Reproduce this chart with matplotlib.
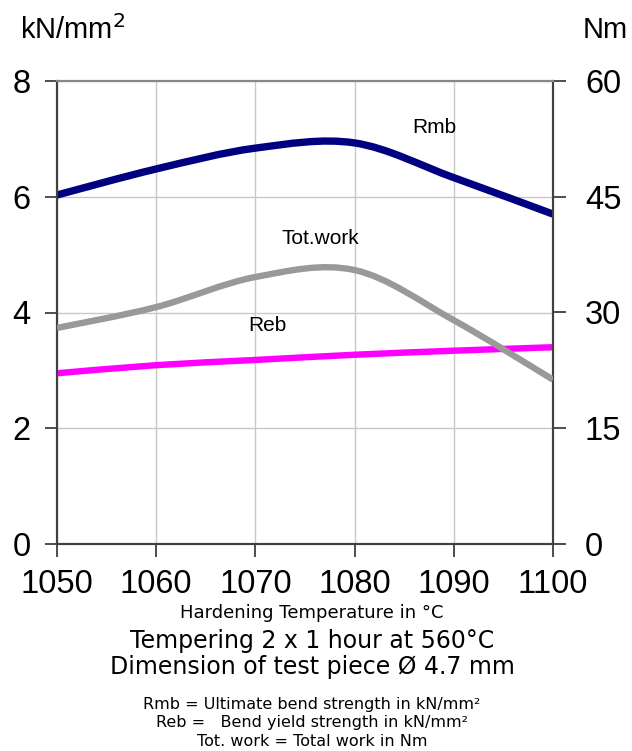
"""
Bend strength / total work vs. hardening temperature, dual axis.
"""
import matplotlib
matplotlib.use("Agg")
import matplotlib.pyplot as plt
from matplotlib.path import Path
from matplotlib.patches import PathPatch

# hardening temperature (°C)
temps = [1050, 1060, 1070, 1080, 1090, 1100]
# Rmb, ultimate bend strength (kN/mm2)
rmb = [6.03, 6.48, 6.84, 6.93, 6.33, 5.70]
# Tot.work, total work (Nm), right axis
tot_work = [28.0, 30.7, 34.6, 35.5, 29.0, 21.3]
# Reb, bend yield strength (kN/mm2)
reb = [2.95, 3.09, 3.18, 3.27, 3.34, 3.40]

xticks = [1050, 1060, 1070, 1080, 1090, 1100]
lticks = [0, 2, 4, 6, 8]
rticks = [0, 15, 30, 45, 60]

tick_font = "Liberation Sans"
note_font = ["DejaVu Sans"]


def smooth_line(a, xs, ys, **kw):
    # Excel-style smoothed line: Catmull-Rom segments as cubic Bezier curves
    pts = list(zip(xs, ys))
    verts = [pts[0]]
    codes = [Path.MOVETO]
    for i in range(len(pts) - 1):
        p0 = pts[i - 1] if i > 0 else pts[i]
        p1, p2 = pts[i], pts[i + 1]
        p3 = pts[i + 2] if i + 2 < len(pts) else pts[i + 1]
        c1 = (p1[0] + (p2[0] - p0[0]) / 6, p1[1] + (p2[1] - p0[1]) / 6)
        c2 = (p2[0] - (p3[0] - p1[0]) / 6, p2[1] - (p3[1] - p1[1]) / 6)
        verts += [c1, c2, p2]
        codes += [Path.CURVE4] * 3
    a.add_patch(PathPatch(Path(verts, codes), fill=False, capstyle="butt", **kw))


fig = plt.figure(figsize=(6.32, 7.51), dpi=100)
ax = fig.add_axes([57 / 632, 207 / 751, 496 / 632, 463 / 751])
ax2 = ax.twinx()

ax.set_xlim(1050, 1100)
ax.set_ylim(0, 8)
ax2.set_ylim(0, 60)
ax.set_xticks(xticks)
ax.set_yticks(lticks)
ax2.set_yticks(rticks)
ax.grid(True, color="#c8c8c8", lw=1)
ax.set_axisbelow(True)

for a in (ax, ax2):
    for s in ("left", "right", "bottom"):
        a.spines[s].set_color("#404040")
        a.spines[s].set_linewidth(1.5)
    a.spines["top"].set_color("#888888")
    a.spines["top"].set_linewidth(1.5)
    a.tick_params(length=9, width=1.3, color="#404040", labelsize=23.5)
    for lbl in a.get_xticklabels() + a.get_yticklabels():
        lbl.set_fontfamily(tick_font)
ax.tick_params(axis="x", pad=9)
ax.tick_params(axis="y", pad=10)
ax2.tick_params(axis="y", pad=14)

smooth_line(ax, temps, rmb, edgecolor="#000080", lw=5.3, zorder=3)
smooth_line(ax, temps, reb, edgecolor="#ff00ff", lw=4.6, zorder=3)
smooth_line(ax2, temps, tot_work, edgecolor="#999999", lw=4.6, zorder=3)

ax.text(1088.0, 7.19, "Rmb", fontsize=15, family=tick_font, ha="center", va="center")
ax.text(1076.6, 5.27, "Tot.work", fontsize=15, family=tick_font, ha="center", va="center")
ax.text(1071.2, 3.77, "Reb", fontsize=15, family=tick_font, ha="center", va="center")

fig.text(20 / 632, 1 - 30 / 751, "kN/mm$^2$", fontsize=21, family=tick_font, va="center")
fig.text(583 / 632, 1 - 30 / 751, "Nm", fontsize=21, family=tick_font, va="center")

cx = 312 / 632
fig.text(cx, 1 - 613 / 751, "Hardening Temperature in °C", fontsize=13,
         family=note_font, ha="center", va="center")
fig.text(cx, 1 - 641 / 751, "Tempering 2 x 1 hour at 560°C", fontsize=17,
         family=note_font, ha="center", va="center")
fig.text(cx, 1 - 667 / 751, "Dimension of test piece Ø 4.7 mm", fontsize=17,
         family=note_font, ha="center", va="center")
fig.text(cx, 1 - 705 / 751, "Rmb = Ultimate bend strength in kN/mm²", fontsize=11.5,
         family=note_font, ha="center", va="center")
fig.text(cx, 1 - 723 / 751, "Reb =   Bend yield strength in kN/mm²", fontsize=11.5,
         family=note_font, ha="center", va="center")
fig.text(cx, 1 - 741 / 751, "Tot. work = Total work in Nm", fontsize=11.5,
         family=note_font, ha="center", va="center")

fig.savefig("out.png", dpi=100)
